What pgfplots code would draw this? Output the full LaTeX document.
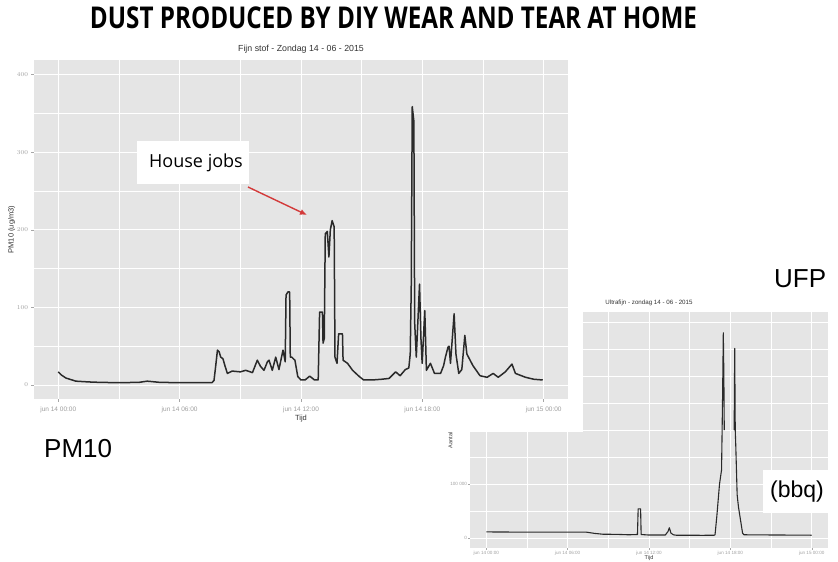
\documentclass[border=0pt]{standalone}
\usepackage{fontspec}
\setmainfont{Liberation Sans}
\newfontfamily\osans{Open Sans}
\usepackage{graphicx}
\usepackage{pgfplots}
\pgfplotsset{compat=1.18}
\usetikzlibrary{arrows.meta}
\definecolor{panel}{HTML}{E5E5E5}
\definecolor{arrowred}{HTML}{D33A3A}
\definecolor{linecol}{HTML}{2A2A2A}
\begin{document}
\begin{tikzpicture}
\path[use as bounding box] (0pt,0pt) rectangle (838pt,-562pt);
% ---------------- UFP chart (behind) ----------------
\begin{axis}[
  at={(470pt,-548pt)}, anchor=south west,
  scale only axis, width=358pt, height=236pt,
  xmin=-1.2, xmax=25.2, ymin=-18500, ymax=418500,
  axis background/.style={fill=panel},
  axis line style={draw=none},
  xtick={0,6,12,18,24},
  xticklabels={jun 14 00:00,jun 14 06:00,jun 14 12:00,jun 14 18:00,jun 15 00:00},
  ytick={0,100000,200000,300000,400000},
  yticklabels={0,100 000,200 000,300 000,400 000},
  scaled y ticks=false,
  minor xtick={3,9,15,21}, minor ytick={50000,150000,250000,350000},
  grid=both,
  major grid style={white, line width=0.8pt},
  minor grid style={white, line width=0.4pt},
  tick pos=left, tick align=outside, major tick length=1.8pt, minor tick length=0pt,
  tick style={gray!70, line width=0.4pt},
  ticklabel style={font=\fontsize{4.6}{5}\selectfont, text=gray!75, inner sep=1pt},
  title={Ultrafijn - zondag 14 - 06 - 2015},
  title style={at={(axis description cs:0.5,1.008)}, anchor=base, font=\fontsize{6.2}{7}\selectfont, text=black!80, inner sep=0pt},
  xlabel={Tijd},
  xlabel style={at={(axis description cs:0.5,-0.041)}, anchor=center, font=\fontsize{5.5}{6}\selectfont, text=black!80, inner sep=0pt},
  ylabel={Aantal deeltjes},
  ylabel style={at={(axis description cs:-0.053,0.5)}, anchor=center, font=\fontsize{5.5}{6}\selectfont, text=black!80, inner sep=0pt},
  unbounded coords=jump,
]
\addplot[linecol, line width=1.1pt, line join=round] coordinates {
(0,11500) (0.5,11200) (2,11000) (4,11000) (6,10800) (7.4,10800) (8,8500) (8.6,7000)
(9.6,6800) (10.5,6000) (11.15,6500) (11.2,54000) (11.38,54000) (11.42,6500)
(12,5500) (13.2,5500) (13.4,12000) (13.5,19000) (13.62,9000) (13.8,6000)
(14,5200) (16,5000) (16.8,5200) (16.87,6000) (17.0,40000) (17.2,100000)
(17.35,126000) (17.42,250000) (17.48,380000) (17.52,300000) (17.55,200000)
(17.9,nan)
(18.28,200000) (18.32,351000) (18.36,200000) (18.4,170000) (18.5,80000)
(18.6,57000) (18.75,33000) (18.9,9000) (19.0,6000) (20,5800) (22,5500) (24,5200)
};
\end{axis}
% ---------------- white sheet of the PM10 chart ----------------
\fill[white] (0pt,-40pt) rectangle (583pt,-432pt);
% ---------------- PM10 chart ----------------
\begin{axis}[
  at={(34pt,-399pt)}, anchor=south west,
  scale only axis, width=534pt, height=339pt,
  xmin=-1.2, xmax=25.2, ymin=-18, ymax=419,
  axis background/.style={fill=panel},
  axis line style={draw=none},
  xtick={0,6,12,18,24},
  xticklabels={jun 14 00:00,jun 14 06:00,jun 14 12:00,jun 14 18:00,jun 15 00:00},
  ytick={0,100,200,300,400},
  minor xtick={3,9,15,21}, minor ytick={50,150,250,350},
  grid=both,
  major grid style={white, line width=1pt},
  minor grid style={white, line width=0.5pt},
  tick pos=left, tick align=outside, major tick length=2.5pt, minor tick length=0pt,
  tick style={gray!70, line width=0.5pt},
  ticklabel style={font=\fontsize{6.5}{7}\selectfont, text=gray!75},
  xticklabel style={yshift=-1.5pt},
  title={Fijn stof - Zondag 14 - 06 - 2015},
  title style={at={(axis description cs:0.5,1.007)}, anchor=base, font=\fontsize{8.8}{10}\selectfont, text=black!80, inner sep=0pt},
  xlabel={Tijd},
  xlabel style={at={(axis description cs:0.5,-0.059)}, anchor=center, font=\fontsize{7.5}{8}\selectfont, text=black!80, inner sep=0pt},
  ylabel={PM10 (ug/m3)},
  ylabel style={at={(axis description cs:-0.042,0.5)}, anchor=center, font=\fontsize{7.5}{8}\selectfont, text=black!80, inner sep=0pt},
]
\addplot[linecol, line width=1.5pt, line join=round] coordinates {
(0.00,17) (0.15,13) (0.38,9) (0.87,5) (1.5,4) (2.0,3.5) (3.0,3) (4.0,3.5) (4.4,5)
(5.0,3.5) (6.0,3) (7.0,3) (7.6,3) (7.7,6) (7.78,24) (7.87,45) (7.95,43) (8.03,36)
(8.14,34) (8.25,24) (8.36,15) (8.6,18) (9.0,17) (9.27,19) (9.6,16) (9.84,32)
(10.0,24) (10.17,19) (10.34,30) (10.42,32) (10.58,19) (10.75,36) (10.91,20)
(11.11,45) (11.22,30) (11.26,116) (11.35,120) (11.44,120) (11.47,36) (11.54,36)
(11.7,32) (11.84,11) (12.0,6.5) (12.2,6.5) (12.43,11.5) (12.67,6.5) (12.85,6.5)
(12.92,94) (13.06,94) (13.09,54) (13.15,60) (13.2,195) (13.3,198) (13.38,165)
(13.45,200) (13.54,212) (13.64,204) (13.68,36) (13.78,28) (13.86,66) (14.05,66)
(14.08,32) (14.3,28) (14.55,19) (14.88,11) (15.1,6.5) (15.5,6.5) (16.0,7.5)
(16.35,8.5) (16.68,17) (16.9,12) (17.16,20) (17.33,22) (17.40,40) (17.45,126)
(17.5,359) (17.58,340) (17.62,80) (17.7,36) (17.86,130) (17.93,60) (17.99,28)
(18.12,96) (18.2,19) (18.4,28) (18.6,15) (18.9,15) (19.05,25) (19.14,36)
(19.27,49) (19.32,50) (19.39,28) (19.57,92) (19.66,40) (19.8,15) (19.95,20)
(20.1,64) (20.2,40) (20.5,25) (20.85,12) (21.2,10) (21.5,15) (21.75,10)
(22.1,17) (22.43,27) (22.6,15) (23.1,10) (23.5,7.5) (23.95,6.5)
};
\end{axis}
% ---------------- annotations ----------------
\begin{scope}[x=1pt,y=-1pt]
\node[anchor=base, inner sep=0pt] at (393.5,28.3)
  {\resizebox{607pt}{\height}{\osans\bfseries\fontsize{30}{34}\selectfont DUST PRODUCED BY DIY WEAR AND TEAR AT HOME}};
\fill[white] (137,141) rectangle (249,184);
\node[anchor=center, inner sep=0pt] at (196,162.5) {\osans\fontsize{18}{20}\selectfont House jobs};
\draw[arrowred, line width=1.4pt, -{Latex[length=7pt,width=6pt]}] (248,187) -- (307,215);
\node[anchor=base west, inner sep=0pt] at (44,457) {\fontsize{26}{28}\selectfont PM10};
\node[anchor=base west, inner sep=0pt] at (774,287) {\fontsize{26}{28}\selectfont UFP};
\fill[white] (763,470) rectangle (828,513);
\node[anchor=center, inner sep=0pt] at (797,491.5) {\fontsize{23}{26}\selectfont (bbq)};
\end{scope}
\end{tikzpicture}
\end{document}
